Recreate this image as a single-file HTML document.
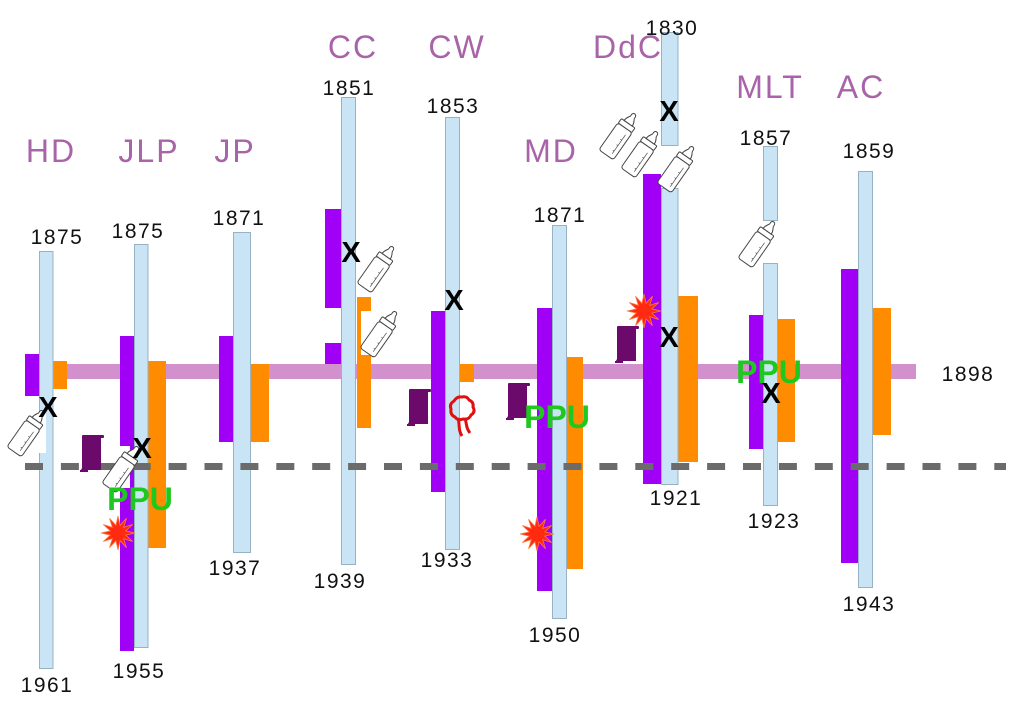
<!DOCTYPE html>
<html>
<head>
<meta charset="utf-8">
<style>
html,body{margin:0;padding:0;background:#fff;}
svg{display:block;}
.yr{font-family:"Liberation Sans","DejaVu Sans",sans-serif;font-size:21px;fill:#111;text-anchor:middle;letter-spacing:1.5px;}
.nm{font-family:"Liberation Sans","DejaVu Sans",sans-serif;font-size:32px;fill:#a864a8;text-anchor:middle;letter-spacing:2px;}
.x{font-family:"Liberation Sans","DejaVu Sans",sans-serif;font-size:29px;font-weight:bold;fill:#000;text-anchor:middle;}
.ppu{font-family:"Liberation Sans","DejaVu Sans",sans-serif;font-size:32px;font-weight:bold;fill:#1ec81e;text-anchor:middle;}
.lb{fill:#c9e4f4;stroke:#98b2c4;stroke-width:1;}
.pu{fill:#a100f7;}
.or{fill:#ff8c00;}
</style>
</head>
<body>
<svg width="1024" height="710" viewBox="0 0 1024 710" xmlns="http://www.w3.org/2000/svg">
<defs>
<g id="bottle" fill="#fff" stroke="#444" stroke-width="0.9">
  <rect x="-8" y="-8" width="16" height="30" rx="2.5"/>
  <rect x="-7.5" y="-13" width="15" height="5" rx="1"/>
  <path d="M-4.5,-13 C-4.5,-17 -2.5,-18 -2,-20 C-3,-24.5 3,-24.5 2,-20 C2.5,-18 4.5,-17 4.5,-13 Z"/>
  <line x1="4" y1="-3" x2="4" y2="18" stroke-width="0.6"/>
  <line x1="2.5" y1="3" x2="4" y2="3" stroke-width="0.6"/>
  <line x1="2.5" y1="9" x2="4" y2="9" stroke-width="0.6"/>
  <line x1="2.5" y1="15" x2="4" y2="15" stroke-width="0.6"/>
</g>
<polygon id="star" fill="#ff2a10" stroke="#ff7a40" stroke-width="0.8" points="17,0 7.73,2.07 14.72,8.5 5.66,5.66 8.5,14.72 2.07,7.73 0,17 -2.07,7.73 -8.5,14.72 -5.66,5.66 -14.72,8.5 -7.73,2.07 -17,0 -7.73,-2.07 -14.72,-8.5 -5.66,-5.66 -8.5,-14.72 -2.07,-7.73 0,-17 2.07,-7.73 8.5,-14.72 5.66,-5.66 14.72,-8.5 7.73,-2.07"/>
<g id="scroll">
  <rect x="2" y="2" width="19" height="33" fill="#6b0a6b"/>
  <rect x="2" y="0" width="22" height="3" rx="1" fill="#6b0a6b"/>
  <path d="M0,36.5 L2,33 L4,36.5 Z" fill="#6b0a6b"/>
  <rect x="0" y="35" width="8" height="2" fill="#6b0a6b"/>
</g>
</defs>

<!-- pink horizontal bar -->
<rect x="25" y="364" width="891" height="15" fill="#d291cc"/>

<!-- HD -->
<rect class="pu" x="25" y="354" width="14" height="42"/>
<rect class="or" x="53" y="361" width="14" height="28"/>
<rect class="lb" x="39.5" y="251.5" width="13.5" height="417"/>

<!-- JLP -->
<rect class="pu" x="120" y="336" width="14" height="315"/>
<rect class="or" x="148" y="361" width="18" height="187"/>
<rect class="lb" x="134.5" y="244.5" width="13.5" height="403"/>

<!-- JP -->
<rect class="pu" x="219" y="336" width="14" height="106"/>
<rect class="or" x="251" y="364" width="18" height="78"/>
<rect class="lb" x="233.5" y="232.5" width="17" height="320"/>

<!-- CC -->
<rect class="pu" x="325" y="209" width="16" height="99"/>
<rect class="pu" x="325" y="343" width="16" height="21"/>
<rect class="or" x="357" y="297" width="14" height="131"/>
<rect class="lb" x="341.5" y="97.5" width="14" height="467"/>

<!-- CW -->
<rect class="pu" x="431" y="311" width="14" height="181"/>
<rect class="or" x="459" y="364" width="15" height="18"/>
<rect class="lb" x="445.5" y="117.5" width="14" height="432"/>

<!-- MD -->
<rect class="pu" x="537" y="308" width="15" height="283"/>
<rect class="or" x="566" y="357" width="17" height="212"/>
<rect class="lb" x="552.5" y="225.5" width="14" height="393"/>

<!-- DdC -->
<rect class="pu" x="643" y="174" width="18" height="310"/>
<rect class="or" x="678" y="296" width="20" height="166"/>
<rect class="lb" x="661.5" y="32.5" width="16.5" height="113"/>
<rect class="lb" x="661.5" y="188.5" width="16.5" height="296"/>

<!-- MLT -->
<rect class="pu" x="749" y="315" width="14" height="134"/>
<rect class="or" x="777" y="319" width="18" height="123"/>
<rect class="lb" x="763.5" y="146.5" width="14" height="74"/>
<rect class="lb" x="763.5" y="263.5" width="14" height="242"/>

<!-- AC -->
<rect class="pu" x="841" y="269" width="17" height="294"/>
<rect class="or" x="873" y="308" width="18" height="127"/>
<rect class="lb" x="858.5" y="171.5" width="14" height="416"/>

<!-- white bottle backgrounds -->
<rect x="8" y="412" width="38" height="41" fill="#fff"/>
<rect x="95" y="446" width="35" height="42" fill="#fff"/>
<rect x="361" y="311" width="37" height="44" fill="#fff"/>

<!-- dashed line -->
<line x1="25" y1="466.5" x2="1006" y2="466.5" stroke="#6b6b6b" stroke-width="7" stroke-dasharray="18 17.9"/>

<!-- bottles -->
<use href="#bottle" transform="translate(28,432) rotate(35) scale(1.1)"/>
<use href="#bottle" transform="translate(123,468) rotate(35) scale(1.1)"/>
<use href="#bottle" transform="translate(378,268) rotate(35) scale(1.1)"/>
<use href="#bottle" transform="translate(381,333) rotate(35) scale(1.1)"/>
<use href="#bottle" transform="translate(620,135) rotate(35) scale(1.1)"/>
<use href="#bottle" transform="translate(642,153) rotate(35) scale(1.1)"/>
<use href="#bottle" transform="translate(678,168) rotate(35) scale(1.1)"/>
<use href="#bottle" transform="translate(759,243) rotate(35) scale(1.1)"/>

<!-- scrolls -->
<use href="#scroll" transform="translate(80,435)"/>
<use href="#scroll" transform="translate(407,389)"/>
<use href="#scroll" transform="translate(506,383)"/>
<use href="#scroll" transform="translate(615,326)"/>

<!-- seal -->
<g fill="none" stroke="#e01010" stroke-width="3">
  <path d="M462,397 Q467,396 469,400 Q474,402 473,407 Q476,412 471,415 Q469,420 463,419 Q458,421 455,417 Q450,415 451,409 Q449,404 454,401 Q457,396 462,397 Z"/>
  <path d="M458,418 C460,425 458,430 462,436"/>
  <path d="M465,418 C467,425 466,428 470,433"/>
</g>

<!-- stars -->
<use href="#star" transform="translate(118,533)"/>
<use href="#star" transform="translate(537,534)"/>
<use href="#star" transform="translate(644,311)"/>

<!-- X markers -->
<text class="x" x="48" y="417">X</text>
<text class="x" x="142" y="458">X</text>
<text class="x" x="351" y="262">X</text>
<text class="x" x="454" y="310">X</text>
<text class="x" x="669" y="121">X</text>
<text class="x" x="669" y="347">X</text>
<text class="x" x="771" y="403">X</text>

<!-- PPU -->
<text class="ppu" x="140" y="510">PPU</text>
<text class="ppu" x="557" y="428">PPU</text>
<text class="ppu" x="769" y="383">PPU</text>

<!-- name labels -->
<text class="nm" x="51" y="162">HD</text>
<text class="nm" x="149" y="162">JLP</text>
<text class="nm" x="235" y="162">JP</text>
<text class="nm" x="353" y="58">CC</text>
<text class="nm" x="457" y="58">CW</text>
<text class="nm" x="551" y="162">MD</text>
<text class="nm" x="628" y="58">DdC</text>
<text class="nm" x="770" y="98">MLT</text>
<text class="nm" x="861" y="98">AC</text>

<!-- year labels -->
<text class="yr" x="57" y="244">1875</text>
<text class="yr" x="138" y="238">1875</text>
<text class="yr" x="239" y="225">1871</text>
<text class="yr" x="349" y="95">1851</text>
<text class="yr" x="453" y="113">1853</text>
<text class="yr" x="560" y="222">1871</text>
<text class="yr" x="672" y="35">1830</text>
<text class="yr" x="766" y="145">1857</text>
<text class="yr" x="869" y="158">1859</text>
<text class="yr" x="968" y="381">1898</text>
<text class="yr" x="47" y="692">1961</text>
<text class="yr" x="139" y="678">1955</text>
<text class="yr" x="235" y="575">1937</text>
<text class="yr" x="340" y="588">1939</text>
<text class="yr" x="447" y="567">1933</text>
<text class="yr" x="555" y="642">1950</text>
<text class="yr" x="676" y="505">1921</text>
<text class="yr" x="774" y="528">1923</text>
<text class="yr" x="869" y="611">1943</text>
</svg>
</body>
</html>
